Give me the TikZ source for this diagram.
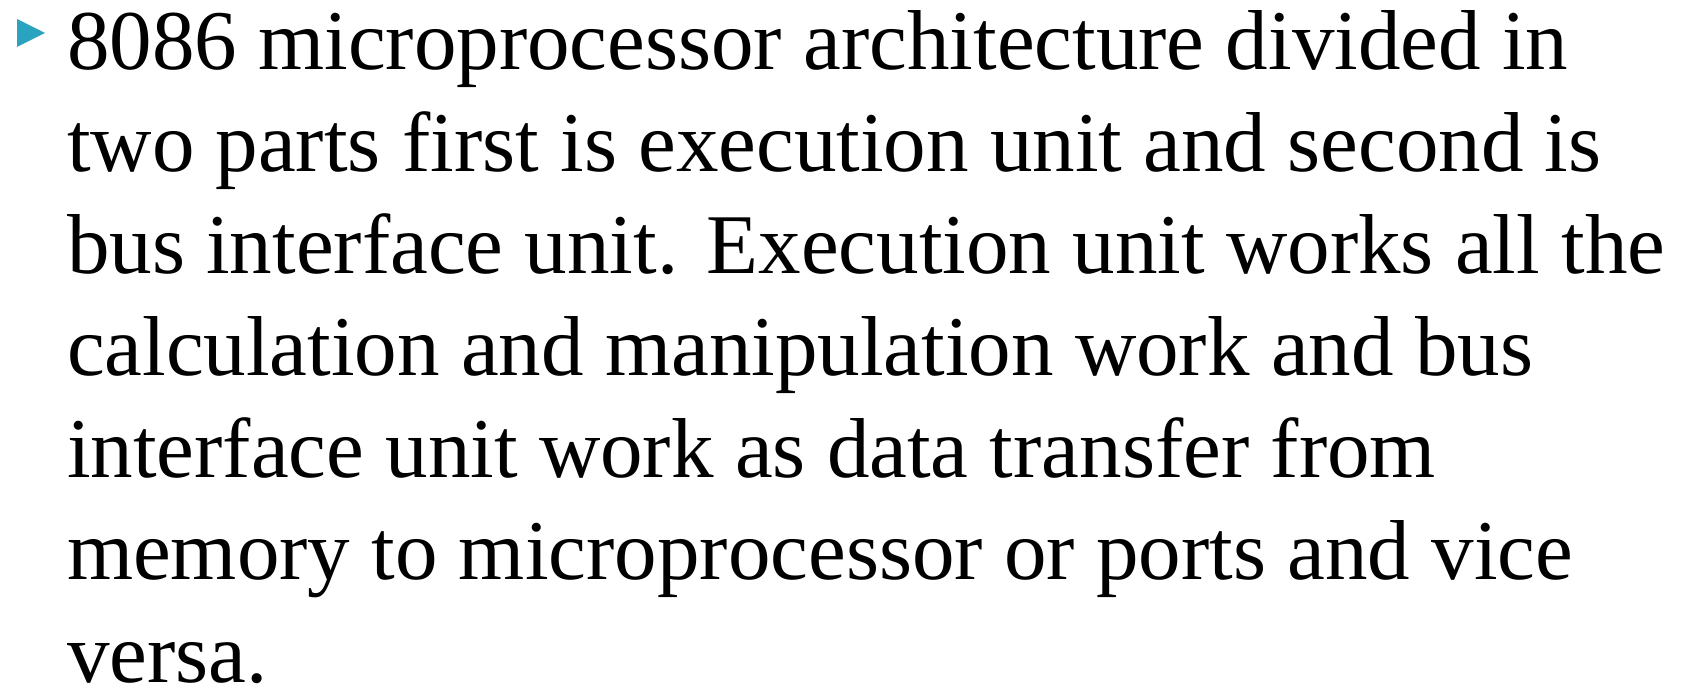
\documentclass[tikz,border=0pt]{standalone}
\usepackage{fontspec}
\setmainfont{Liberation Serif}
\definecolor{bulletblue}{HTML}{2AA3C0}
\begin{document}
\begin{tikzpicture}[x=0.5pt,y=-0.5pt,
  bodyline/.style={anchor=base west,inner sep=0pt,outer sep=0pt,
    font=\fontsize{42.5pt}{51pt}\selectfont}]
\useasboundingbox (0,0) rectangle (1684,688);
% bullet marker
\fill[bulletblue] (17,19) -- (45,33) -- (17,47) -- cycle;
% paragraph, one node per printed line
\node[bodyline] (l1) at (67,70)  {8086 microprocessor architecture divided in};
\node[bodyline] (l2) at (67,172) {two parts first is execution unit and second is};
\node[bodyline] (l3) at (67,274) {bus interface unit. Execution unit works all the};
\node[bodyline] (l4) at (67,376) {calculation and manipulation work and bus};
\node[bodyline] (l5) at (67,478) {interface unit work as data transfer from};
\node[bodyline] (l6) at (67,580) {memory to microprocessor or ports and vice};
\node[bodyline] (l7) at (67,682) {versa.};
\end{tikzpicture}
\end{document}
